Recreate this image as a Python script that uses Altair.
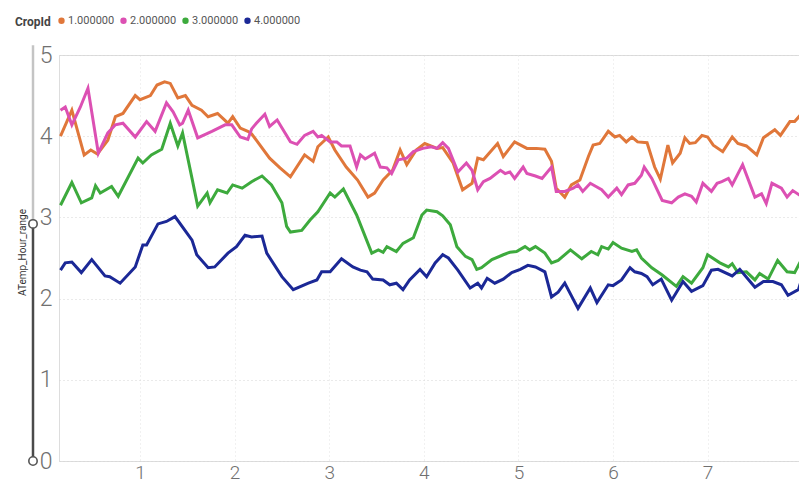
import altair as alt
import pandas as pd

crop_ids = ["1.000000", "2.000000", "3.000000", "4.000000"]
colors = ["#E0773A", "#DC50B3", "#3DAA3D", "#1B2896"]

x1 = [0.16, 0.28, 0.41, 0.48, 0.55, 0.66, 0.74, 0.82, 0.95, 1.00, 1.11, 1.18, 1.26, 1.32, 1.40, 1.48, 1.55, 1.65,
      1.72, 1.82, 1.93, 1.98, 2.06, 2.14, 2.18, 2.37, 2.48, 2.59, 2.74, 2.83, 2.88, 2.99, 3.06, 3.18, 3.30, 3.41,
      3.48, 3.57, 3.67, 3.75, 3.82, 3.92, 4.01, 4.14, 4.20, 4.31, 4.41, 4.51, 4.57, 4.63, 4.78, 4.84, 4.96, 5.09,
      5.19, 5.28, 5.35, 5.40, 5.49, 5.56, 5.65, 5.74, 5.79, 5.86, 5.95, 6.02, 6.07, 6.14, 6.20, 6.26, 6.36, 6.44,
      6.50, 6.58, 6.63, 6.71, 6.76, 6.81, 6.87, 6.94, 7.00, 7.06, 7.16, 7.26, 7.32, 7.41, 7.52, 7.59, 7.71, 7.77,
      7.87, 7.92, 8.01, 8.05]
y1 = [4.00, 4.32, 3.77, 3.83, 3.78, 3.95, 4.24, 4.28, 4.50, 4.45, 4.50, 4.63, 4.67, 4.65, 4.47, 4.50, 4.38, 4.32,
      4.24, 4.28, 4.16, 4.24, 4.10, 4.06, 4.03, 3.73, 3.61, 3.50, 3.77, 3.69, 3.87, 3.99, 3.83, 3.62, 3.46, 3.25,
      3.30, 3.46, 3.58, 3.83, 3.65, 3.83, 3.91, 3.85, 3.86, 3.67, 3.34, 3.42, 3.73, 3.71, 3.91, 3.75, 3.93, 3.85,
      3.85, 3.84, 3.69, 3.36, 3.25, 3.40, 3.46, 3.75, 3.89, 3.91, 4.06, 3.99, 4.01, 3.93, 3.99, 3.93, 3.92, 3.62,
      3.47, 3.89, 3.67, 3.79, 3.98, 3.91, 3.92, 4.01, 3.99, 3.89, 3.81, 3.99, 3.91, 3.88, 3.77, 3.98, 4.08, 4.01,
      4.18, 4.18, 4.30, 4.32]

x2 = [0.16, 0.21, 0.28, 0.37, 0.45, 0.56, 0.66, 0.74, 0.82, 0.95, 1.07, 1.16, 1.28, 1.35, 1.42, 1.45, 1.51, 1.61,
      1.76, 1.90, 1.97, 2.06, 2.14, 2.18, 2.23, 2.32, 2.37, 2.45, 2.59, 2.66, 2.74, 2.83, 2.88, 2.92, 3.01, 3.08,
      3.13, 3.22, 3.29, 3.33, 3.38, 3.48, 3.54, 3.61, 3.66, 3.73, 3.82, 3.89, 3.99, 4.08, 4.14, 4.20, 4.26, 4.36,
      4.45, 4.51, 4.57, 4.63, 4.70, 4.81, 4.86, 4.91, 4.96, 5.05, 5.09, 5.18, 5.25, 5.35, 5.40, 5.49, 5.58, 5.63,
      5.68, 5.76, 5.88, 5.95, 6.04, 6.09, 6.16, 6.23, 6.30, 6.33, 6.41, 6.52, 6.62, 6.69, 6.76, 6.83, 6.88, 6.95,
      7.04, 7.10, 7.15, 7.22, 7.26, 7.37, 7.50, 7.57, 7.62, 7.68, 7.78, 7.84, 7.90, 7.99, 8.05]
y2 = [4.32, 4.36, 4.14, 4.36, 4.59, 3.79, 4.04, 4.14, 4.16, 3.99, 4.18, 4.06, 4.41, 4.30, 4.14, 4.16, 4.32, 3.98,
      4.06, 4.14, 4.14, 3.99, 3.96, 4.09, 4.16, 4.27, 4.12, 4.20, 3.93, 3.90, 4.01, 4.06, 3.99, 4.01, 3.93, 3.93,
      3.88, 3.88, 3.62, 3.77, 3.72, 3.79, 3.62, 3.61, 3.54, 3.71, 3.73, 3.81, 3.85, 3.87, 3.85, 3.92, 3.85, 3.56,
      3.67, 3.58, 3.34, 3.44, 3.48, 3.58, 3.54, 3.56, 3.48, 3.62, 3.54, 3.51, 3.48, 3.62, 3.32, 3.32, 3.36, 3.40,
      3.32, 3.42, 3.34, 3.25, 3.36, 3.28, 3.40, 3.42, 3.52, 3.62, 3.48, 3.21, 3.18, 3.25, 3.29, 3.26, 3.19, 3.42,
      3.32, 3.42, 3.44, 3.48, 3.40, 3.65, 3.25, 3.29, 3.17, 3.42, 3.36, 3.25, 3.33, 3.26, 3.26]

x3 = [0.16, 0.28, 0.38, 0.49, 0.53, 0.58, 0.70, 0.77, 0.98, 1.03, 1.12, 1.23, 1.32, 1.40, 1.45, 1.55, 1.61, 1.71,
      1.74, 1.82, 1.92, 1.98, 2.08, 2.18, 2.29, 2.39, 2.50, 2.55, 2.59, 2.71, 2.80, 2.88, 3.01, 3.06, 3.15, 3.29,
      3.45, 3.52, 3.57, 3.61, 3.71, 3.78, 3.89, 3.98, 4.03, 4.14, 4.20, 4.28, 4.35, 4.44, 4.51, 4.56, 4.61, 4.72,
      4.84, 4.91, 4.98, 5.07, 5.12, 5.18, 5.28, 5.35, 5.42, 5.55, 5.67, 5.77, 5.84, 5.88, 5.95, 6.00, 6.09, 6.20,
      6.25, 6.30, 6.41, 6.52, 6.67, 6.74, 6.83, 6.95, 7.00, 7.13, 7.22, 7.26, 7.32, 7.41, 7.50, 7.55, 7.64, 7.74,
      7.84, 7.92, 8.01, 8.05]
y3 = [3.15, 3.43, 3.18, 3.24, 3.39, 3.30, 3.38, 3.26, 3.73, 3.67, 3.77, 3.84, 4.16, 3.88, 4.04, 3.48, 3.14, 3.30,
      3.18, 3.34, 3.30, 3.40, 3.36, 3.44, 3.51, 3.40, 3.18, 2.89, 2.82, 2.84, 2.97, 3.07, 3.30, 3.25, 3.35, 3.03,
      2.56, 2.60, 2.57, 2.64, 2.58, 2.68, 2.75, 3.03, 3.09, 3.07, 3.02, 2.91, 2.64, 2.52, 2.48, 2.36, 2.38, 2.48,
      2.54, 2.57, 2.58, 2.64, 2.60, 2.64, 2.56, 2.44, 2.47, 2.60, 2.49, 2.58, 2.54, 2.64, 2.61, 2.69, 2.62, 2.58,
      2.60, 2.50, 2.38, 2.29, 2.15, 2.27, 2.19, 2.38, 2.54, 2.44, 2.39, 2.43, 2.32, 2.33, 2.23, 2.31, 2.24, 2.47,
      2.33, 2.32, 2.52, 2.58]

x4 = [0.16, 0.21, 0.28, 0.38, 0.49, 0.63, 0.68, 0.79, 0.95, 1.03, 1.07, 1.19, 1.28, 1.37, 1.55, 1.60, 1.72, 1.79,
      1.93, 2.02, 2.11, 2.18, 2.29, 2.34, 2.50, 2.62, 2.78, 2.87, 2.92, 3.01, 3.13, 3.25, 3.33, 3.40, 3.46, 3.57,
      3.64, 3.71, 3.78, 3.85, 3.96, 4.03, 4.12, 4.20, 4.26, 4.36, 4.49, 4.57, 4.61, 4.67, 4.75, 4.84, 4.93, 5.02,
      5.10, 5.18, 5.28, 5.35, 5.42, 5.49, 5.63, 5.76, 5.83, 5.95, 6.00, 6.09, 6.18, 6.23, 6.30, 6.36, 6.42, 6.51,
      6.62, 6.74, 6.83, 6.95, 7.04, 7.11, 7.26, 7.34, 7.50, 7.59, 7.69, 7.78, 7.85, 7.96, 8.05]
y4 = [2.35, 2.44, 2.45, 2.32, 2.48, 2.28, 2.27, 2.19, 2.39, 2.66, 2.66, 2.92, 2.95, 3.01, 2.72, 2.54, 2.38, 2.39,
      2.56, 2.64, 2.78, 2.76, 2.77, 2.56, 2.27, 2.11, 2.19, 2.23, 2.33, 2.33, 2.49, 2.39, 2.35, 2.33, 2.24, 2.23,
      2.17, 2.19, 2.11, 2.23, 2.36, 2.27, 2.44, 2.54, 2.50, 2.35, 2.13, 2.19, 2.13, 2.25, 2.19, 2.24, 2.32, 2.36,
      2.41, 2.39, 2.33, 2.02, 2.08, 2.19, 1.88, 2.13, 1.95, 2.17, 2.16, 2.23, 2.38, 2.33, 2.31, 2.27, 2.17, 2.24,
      1.98, 2.21, 2.09, 2.16, 2.35, 2.36, 2.28, 2.36, 2.14, 2.21, 2.21, 2.17, 2.04, 2.11, 2.45]

x_ticks = [1, 2, 3, 4, 5, 6, 7]
y_ticks = [0, 1, 2, 3, 4, 5]
slider_handle = 2.92
slider_top = 5.12

rows = []
for cid, xs, ys in zip(crop_ids, [x1, x2, x3, x4], [y1, y2, y3, y4]):
    for i, (a, b) in enumerate(zip(xs, ys)):
        rows.append({"CropId": cid, "x": a, "ATemp_Hour_range": b, "order": i})
df = pd.DataFrame(rows)

FONT = "Roboto"

xscale = alt.Scale(domain=[0.144, 7.966], nice=False, zero=False)
yscale = alt.Scale(domain=[0, 5], nice=False, zero=True)

yaxis = alt.Axis(values=y_ticks, title="ATemp_Hour_range", grid=True, domain=False, ticks=False,
                 labelFontSize=23, labelFontWeight=300, labelColor="#707070", labelFont=FONT, labelPadding=7,
                 gridColor="#d4d4d4", gridDash=[1, 3], gridWidth=1,
                 titleFont=FONT, titleFontSize=10, titleFontWeight="normal", titleColor="#333333",
                 titleAngle=270, titleX=-37, titleY=197, titleAlign="center", titleBaseline="middle")

lines = alt.Chart(df).mark_line(strokeWidth=3, clip=True).encode(
    x=alt.X("x:Q", scale=xscale,
            axis=alt.Axis(values=x_ticks, title=None, grid=True, domain=False, ticks=False,
                          labelFontSize=19, labelFontWeight=300, labelColor="#707070", labelFont=FONT,
                          labelPadding=2, gridColor="#e2e2e2", gridDash=[1, 3], gridWidth=1)),
    y=alt.Y("ATemp_Hour_range:Q", scale=yscale, axis=yaxis),
    color=alt.Color("CropId:N", scale=alt.Scale(domain=crop_ids, range=colors),
                    legend=alt.Legend(orient="none", legendX=-44, legendY=-40, direction="horizontal",
                                      title="CropId", titleOrient="left", titleFont=FONT, titleFontSize=12,
                                      titleFontWeight="bold", titleColor="#444444", titlePadding=5,
                                      labelFont=FONT, labelFontSize=11, labelColor="#555555",
                                      symbolType="circle", symbolSize=10, symbolStrokeWidth=3.2,
                                      labelOffset=1, columnPadding=0)),
    order="order:Q",
)

slider_df = pd.DataFrame({"lo": [slider_handle, 0.0], "hi": [slider_top, slider_handle],
                          "part": ["upper", "lower"]})
slider = alt.Chart(slider_df).mark_rule(strokeWidth=2.5).encode(
    x=alt.value(-26),
    y=alt.Y("lo:Q", scale=yscale, axis=yaxis),
    y2="hi:Q",
    color=alt.Color("part:N", scale=alt.Scale(domain=["upper", "lower"], range=["#c4c4c4", "#4a4a4a"]),
                    legend=None),
)

handles_df = pd.DataFrame({"v": [slider_handle, 0.0]})
handles = alt.Chart(handles_df).mark_point(shape="circle", size=70, filled=True, fill="white",
                                           stroke="#555555", strokeWidth=1.6, opacity=1).encode(
    x=alt.value(-26),
    y=alt.Y("v:Q", scale=yscale, axis=yaxis),
)

chart = alt.layer(lines, slider, handles).resolve_scale(color="independent").properties(
    width=740, height=406,
    autosize=alt.AutoSizeParams(type="none"),
    padding={"left": 51, "top": 47, "right": 0, "bottom": 25},
).configure_view(stroke=None).configure(background="white")

chart.save("out.html", embed_options={"renderer": "svg", "actions": False})
